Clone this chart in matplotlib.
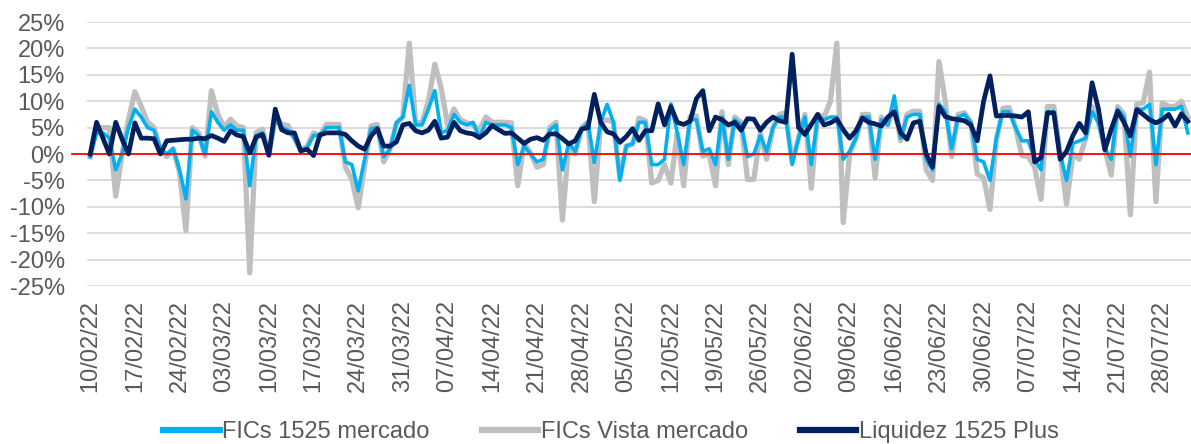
import numpy as np
import pandas as pd
import matplotlib
matplotlib.use("Agg")
import matplotlib.pyplot as plt

plt.rcParams['font.family'] = ['Liberation Sans', 'DejaVu Sans']

# daily series, first value on 10/02/22
start_date = "2022-02-10"

fics_1525 = [
    -0.5, 4, 4, 3, -3, 0, 5, 8.5, 7, 5, 4.5, 1, 0, 1, -3, -8.5, 4.5, 3.5, 0, 8,
    6, 4.5, 5.5, 4.5, 4.5, -6, 3.5, 4, 0, 6.5, 5, 4.5, 3, 0.5, 1.2, 3.5, 3.5, 5, 5, 5,
    -1.5, -2, -7, -1, 4.8, 5, -0.5, 1, 6, 7, 13, 5.5, 5.5, 8.5, 12, 4, 4.5, 7.5, 6, 5.5,
    6, 3, 6, 5.5, 5.5, 5.5, 5, -2, 1.5, 0, -1.5, -1, 4.5, 5.5, -3, 2, 0.5, 4.5, 6, -1.6,
    6, 9.4, 6, -5, 1.5, 2, 6, 6, -2, -2, -1, 9.5, 4, -2, 6.5, 6.5, 0.5, 1, -2, 7,
    -1, 6.5, 5.5, -0.5, 0, 3.5, 0.5, 5, 7, 7, -2, 3, 7, -2, 7, 6.5, 7, 7, -1, 0.5,
    3, 7, 7, -1, 6.5, 5.5, 11, 3, 7, 7.5, 7.5, -1, -3, 9.5, 8, 1, 7, 7.5, 6, -1,
    -1.5, -5, 3, 8, 8, 5, 2.5, 2.5, -1, -3, 8, 8, 0, -5, 2, 2.5, 3, 8, 6, 1,
    -1, 8.5, 7, -0.4, 8.5, 8.5, 9.4, -2, 8.5, 8.5, 8.5, 9, 4,
]

fics_vista = [
    -0.5, 5, 5, 5, -8, 0, 6.5, 11.8, 9, 6, 5, 1, -0.5, 1, -3.5, -14.5, 5, 4, -0.4, 12,
    7.5, 5, 6.6, 5.3, 5, -22.5, 4, 4.7, -0.3, 7, 5.6, 5.4, 3, 0.6, 1.5, 4, 3.5, 5.6, 5.6, 5.6,
    -2.5, -4.8, -10.2, -2.3, 5.3, 5.6, -1.5, 1, 5.8, 7, 21, 6, 5.9, 10, 17, 12.5, 5.5, 8.5, 6.5, 5.9,
    5.5, 4.5, 7, 6, 6, 6, 5.9, -6, 2, 0.2, -2.5, -2, 5, 6, -12.5, 2, 0, 5, 6, -9,
    6, 6.5, 6, -4.5, 1.5, 1.8, 6.8, 6.3, -5.5, -5, -2, -5.5, 4, -6, 7, 7.2, -0.4, 0, -6, 8,
    -2, 7, 6, -4.8, -4.8, 4, -1, 5, 7.5, 7.8, -1.5, 3, 7.5, -6.5, 7.5, 7, 10, 21, -13, 0,
    3, 7.5, 7.5, -4.5, 7, 5.5, 9.5, 2.5, 7.5, 8.1, 8.1, -3, -5, 17.5, 10, -0.5, 7.5, 7.8, 6, -3.8,
    -4.5, -10.5, 2.5, 8.6, 8.8, 5, -0.3, -0.5, -2.5, -8.6, 9, 9, 0, -9.5, 0, -1, 3, 9, 6, 1,
    -4, 9, 7.5, -11.5, 9.4, 9.7, 15.5, -9, 9.7, 9, 9, 10, 7,
]

liquidez_plus = [
    0, 6, 3, 0, 6, 2.8, 0, 5.9, 3, 3, 2.9, 0, 2.5, 2.6, 2.7, 2.8, 2.8, 3, 2.9, 3.5,
    3, 2.4, 4.4, 3.6, 3.3, 0.2, 3.2, 3.7, -0.2, 8.5, 4.6, 4, 4, 0.6, 0.9, -0.3, 3.6, 4, 4, 4,
    3.7, 2.5, 1.5, 0.9, 3.4, 4.8, 1.5, 1.5, 2.3, 5.5, 5.8, 4.4, 4, 4.5, 6.2, 3, 3.2, 6, 4.4, 4,
    3.8, 3.1, 4, 5.4, 4.6, 3.9, 4, 3, 2, 2.8, 3.1, 2.6, 3.8, 3.8, 2.9, 1.9, 2.5, 4.7, 5, 11.3,
    6, 4.2, 3.8, 2.2, 3.3, 4.8, 2.6, 4.4, 4.4, 9.5, 5.5, 9, 6, 5.6, 6.2, 10.5, 12, 4.4, 7, 6.5,
    5.5, 6, 4.5, 6.7, 6.6, 4.5, 6, 7, 6.3, 6, 18.9, 5, 3.7, 5.6, 7.5, 5.5, 5.9, 6.6, 4.6, 3,
    4.4, 6.8, 6, 5.7, 5.3, 7, 8, 4, 2.8, 5.9, 6.2, 0, -2.5, 9, 7.1, 6.7, 6.5, 6.3, 5.5, 2.5,
    10, 14.8, 7.2, 7.3, 7.3, 7.2, 7, 8, -1.5, -0.7, 7.8, 7.8, -1, 0.5, 3.5, 5.8, 4, 13.5, 8.5, 0.8,
    4.7, 8.1, 6, 3.4, 8.4, 7.5, 6.5, 5.9, 6.5, 7.5, 5.3, 7.6, 6.2,
]

series_names = ["FICs 1525 mercado", "FICs Vista mercado", "Liquidez 1525 Plus"]
y_ticks = [-25, -20, -15, -10, -5, 0, 5, 10, 15, 20, 25]
tick_step = 7

dates = pd.date_range(start_date, periods=len(liquidez_plus), freq="D")
df = pd.DataFrame({
    series_names[0]: fics_1525,
    series_names[1]: fics_vista,
    series_names[2]: liquidez_plus,
}, index=dates)

text_color = "#595959"
fs = 17

fig = plt.figure(figsize=(11.91, 4.44), dpi=100)
ax = fig.add_axes([87 / 1191, 1 - 286 / 444, 1 - 87 / 1191, (286 - 22) / 444])

ax.plot(df.index, df[series_names[1]], color="#BFBFBF", lw=3.8, zorder=3,
        solid_joinstyle="round", label=series_names[1])
ax.plot(df.index, df[series_names[0]], color="#00B0F0", lw=2.6, zorder=4,
        solid_joinstyle="round", label=series_names[0])
ax.axhline(0, xmin=-0.014, xmax=1, color="#FF0000", lw=1.3, zorder=5, clip_on=False)
ax.plot(df.index, df[series_names[2]], color="#002060", lw=3.4, zorder=6,
        solid_joinstyle="round", label=series_names[2])

ax.set_ylim(-25, 25)
ax.set_yticks(y_ticks)
ax.set_yticklabels([f"{v}%" for v in y_ticks])
ax.set_xlim(dates[0] - pd.Timedelta(hours=12), dates[-1] + pd.Timedelta(hours=12))
ax.set_xticks(dates[::tick_step])
ax.set_xticklabels([d.strftime("%d/%m/%y") for d in dates[::tick_step]], rotation=90)

ax.grid(axis="y", color="#D9D9D9", lw=1.3, zorder=0)
ax.set_axisbelow(True)
for s in ax.spines.values():
    s.set_visible(False)
ax.tick_params(axis="both", length=0, labelsize=fs, colors=text_color)
ax.tick_params(axis="y", pad=16)
ax.tick_params(axis="x", pad=10)

handles, labels = ax.get_legend_handles_labels()
order = [1, 0, 2]
leg = fig.legend([handles[i] for i in order], [labels[i] for i in order],
                 loc="center", bbox_to_anchor=(0.513, 0.026), ncol=3, frameon=False,
                 fontsize=fs, handlelength=2.4, handletextpad=0.1, columnspacing=2.2,
                 labelcolor=text_color)
for line in leg.get_lines():
    line.set_linewidth(4.5)

fig.savefig("out.png", dpi=100)
